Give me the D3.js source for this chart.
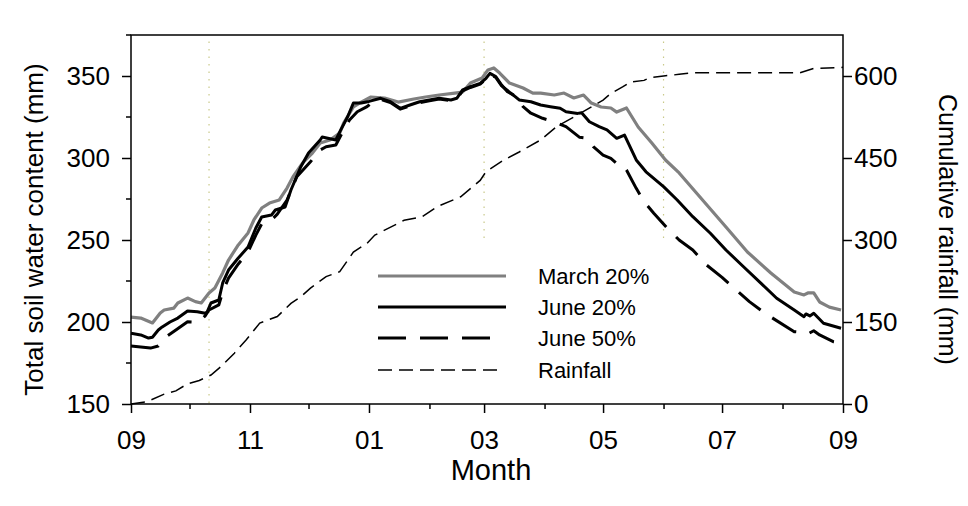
<!DOCTYPE html>
<html><head><meta charset="utf-8">
<script src="https://cdn.jsdelivr.net/npm/d3@7"></script>
<style>
body{margin:0;background:#fff;}
svg{display:block;font-family:Arial,"Liberation Sans",sans-serif;}
</style>
</head><body>
<svg id="chart" width="968" height="506"></svg>
<script>
// ---------- DATA ----------
const startDate = new Date(2009, 8, 1);
const endDate = new Date(2010, 8, 1);

const march20Days = [0,5,11,15,17,22,24,29,33,36,40,43,47,50,55,60,63,67,71,76,80,83,88,93,97,102,107,109,114,118,123,130,137,145,151,158,166,170,174,180,183,186,189,194,201,206,210,217,222,227,232,236,241,246,249,254,260,267,274,281,293,305,316,328,340,345,347,350,353,358,364];
const march20Values = [203.0,202.4,199.4,205.5,207.3,208.5,211.6,214.6,212.4,211.6,217.7,220.7,229.9,237.8,247.0,254.3,262.2,269.5,272.5,274.4,281.7,288.4,297.0,303.0,309.1,311.0,315.2,321.3,331.1,334.1,337.2,336.6,334.1,336.0,337.2,338.4,339.6,340.2,345.7,348.8,353.7,354.9,351.8,345.7,342.7,339.6,339.6,338.4,339.6,336.6,338.4,333.5,331.1,330.5,328.0,330.5,318.9,309.1,298.8,290.9,274.4,257.9,242.7,229.9,218.3,216.5,217.7,217.7,212.2,209.1,207.3];

const june20Days = [0,5,9,11,14,16,20,24,29,34,38,39,41,45,47,50,55,60,64,67,72,74,79,82,87,91,97,98,105,107,111,114,118,122,128,133,138,143,148,153,158,164,167,170,174,179,182,184,187,190,193,196,199,205,210,215,220,223,229,231,235,240,244,249,253,259,264,273,280,288,297,305,314,323,331,340,345,346,348,350,355,364];
const june20Values = [193.1,192.1,190.2,190.7,195.1,197.0,200.0,202.4,206.7,206.3,205.3,206.1,211.6,213.4,223.8,231.7,239.0,245.7,257.3,264.0,265.2,268.3,270.1,280.5,294.5,303.0,311.0,312.8,311.0,315.9,325.0,333.5,333.5,334.5,336.4,334.3,330.3,332.3,334.3,335.4,336.4,335.4,336.4,341.5,343.5,345.5,348.6,351.6,349.6,344.5,340.4,338.4,335.4,334.3,332.3,331.3,330.3,328.2,327.2,327.6,322.1,319.1,317.1,312.0,314.0,298.8,291.6,282.5,274.4,264.2,254.1,243.9,233.7,223.6,214.5,207.3,203.2,204.9,203.7,205.3,199.2,196.2];

const june50Days = [0,5,10,14,18,23,29,32,35,38,40,45,47,50,55,60,64,67,72,75,80,85,92,97,100,105,109,112,116,121,124,128,133,138,143,148,153,158,164,167,170,174,179,182,184,187,190,194,198,201,205,211,217,223,230,234,237,242,246,250,252,254,259,263,268,275,281,288,295,303,317,325,340,346,347,350,353,360,364];
const june50Values = [185.4,184.8,184.1,185.4,191.0,195.1,200.2,200.0,200.2,203.7,207.3,210.4,218.3,226.8,235.4,242.7,253.0,259.8,262.2,265.8,274.4,288.6,297.7,304.9,306.9,307.9,317.1,323.2,328.2,331.3,334.3,335.8,333.8,329.8,331.8,333.8,334.9,335.9,334.9,335.9,341.0,343.0,345.0,348.1,351.1,349.1,344.0,340.2,336.6,331.3,327.3,324.2,322.1,319.1,312.6,312.0,306.9,301.8,299.8,295.7,295.7,292.7,281.5,273.4,266.3,257.1,250.0,243.9,234.8,227.2,212.4,205.3,194.1,193.5,192.7,194.7,192.1,188.0,187.2];

const rainDays = [0,8,17,23,29,35,41,46,53,59,66,75,82,87,92,100,107,114,121,125,130,140,149,157,169,179,182,191,199,210,218,230,242,246,252,256,263,266,273,281,288,343,350,362,365];
const rainValues = [0,4,18,24,37,43,53,68,93,117,148,160,184,196,212,233,242,278,294,309,318,336,342,361,379,409,425,446,461,483,507,531,556,568,580,589,592,597,600,603,606,606,614,615,616];

const markerDays = [40, 181, 273];
const markerBottoms = [150, 249, 249];

const leftTicks = [150, 200, 250, 300, 350];
const leftMinorTicks = [175, 225, 275, 325, 375];
const rightTicks = [0, 150, 300, 450, 600];

const seriesNames = ["March 20%", "June 20%", "June 50%", "Rainfall"];

// ---------- CHART ----------
const svg = d3.select("#chart");
const L = 131, R = 843, T = 35, B = 404;
const FONT = "Arial, 'Liberation Sans', sans-serif";
const dateOf = d => d3.timeDay.offset(startDate, d);

const x = d3.scaleTime().domain([startDate, endDate]).range([L, R]);
const yL = d3.scaleLinear().domain([150, 375]).range([B, T]);
const yR = d3.scaleLinear().domain([0, 675]).range([B, T]);

// vertical marker lines
markerDays.forEach((d, i) => {
  svg.append("line")
    .attr("x1", x(dateOf(d))).attr("x2", x(dateOf(d)))
    .attr("y1", yL(371)).attr("y2", yL(markerBottoms[i]))
    .attr("stroke", "#c9c98a").attr("stroke-width", 1.2)
    .attr("stroke-dasharray", "1.5,6");
});

const lineL = (days, vals) => d3.line().x((d, i) => x(dateOf(days[i]))).y((d, i) => yL(vals[i]))(vals);
const lineR = (days, vals) => d3.line().x((d, i) => x(dateOf(days[i]))).y((d, i) => yR(vals[i]))(vals);

svg.append("path").attr("d", lineR(rainDays, rainValues))
  .attr("fill", "none").attr("stroke", "#000").attr("stroke-width", 1.5)
  .attr("stroke-dasharray", "14,7");
svg.append("path").attr("d", lineL(march20Days, march20Values))
  .attr("fill", "none").attr("stroke", "#808080").attr("stroke-width", 3.2).attr("stroke-linejoin", "round");
svg.append("path").attr("d", lineL(june20Days, june20Values))
  .attr("fill", "none").attr("stroke", "#000").attr("stroke-width", 3).attr("stroke-linejoin", "round");
svg.append("path").attr("d", lineL(june50Days, june50Values))
  .attr("fill", "none").attr("stroke", "#000").attr("stroke-width", 3).attr("stroke-linejoin", "round")
  .attr("stroke-dasharray", "28,14");

// frame
svg.append("rect").attr("x", L).attr("y", T).attr("width", R - L).attr("height", B - T)
  .attr("fill", "none").attr("stroke", "#000").attr("stroke-width", 1.5);

// bottom axis
const months = d3.timeMonth.range(startDate, d3.timeDay.offset(endDate, 1));
const gx = svg.append("g").attr("transform", `translate(0,${B})`)
  .call(d3.axisBottom(x).tickValues(months).tickSize(5).tickPadding(22)
    .tickFormat(d => d.getMonth() % 2 === 0 ? d3.timeFormat("%m")(d) : ""));
gx.select(".domain").remove();
gx.selectAll(".tick line").attr("stroke-width", 1.5)
  .attr("y2", d => d.getMonth() % 2 === 0 ? 9 : 5);
gx.selectAll("text").attr("font-size", 26).attr("font-family", FONT).attr("fill", "#000");

// left axis
const gl = svg.append("g").attr("transform", `translate(${L},0)`)
  .call(d3.axisLeft(yL).tickValues(leftTicks).tickSize(9).tickPadding(12));
gl.select(".domain").remove();
gl.selectAll(".tick line").attr("stroke-width", 1.5);
gl.selectAll("text").attr("font-size", 26).attr("font-family", FONT).attr("fill", "#000");
gl.selectAll(".minor").data(leftMinorTicks).enter().append("line")
  .attr("x1", 0).attr("x2", -5).attr("y1", d => yL(d)).attr("y2", d => yL(d))
  .attr("stroke", "#000").attr("stroke-width", 1.5);

// right axis
const gr = svg.append("g").attr("transform", `translate(${R},0)`)
  .call(d3.axisRight(yR).tickValues(rightTicks).tickSize(9).tickPadding(2));
gr.select(".domain").remove();
gr.selectAll(".tick line").attr("stroke-width", 1.5);
gr.selectAll("text").attr("font-size", 26).attr("font-family", FONT).attr("fill", "#000");

// axis titles
svg.append("text").attr("transform", `translate(43,${(T + B) / 2 + 10}) rotate(-90)`)
  .attr("text-anchor", "middle").attr("font-size", 26).text("Total soil water content (mm)");
svg.append("text").attr("transform", `translate(939,${(T + B) / 2 + 10}) rotate(90)`)
  .attr("text-anchor", "middle").attr("font-size", 25).text("Cumulative rainfall (mm)");
svg.append("text").attr("x", (L + R) / 2 + 4).attr("y", 480)
  .attr("text-anchor", "middle").attr("font-size", 29).text("Month");

// legend
const legStyles = [
  {stroke: "#808080", w: 3.2, dash: null},
  {stroke: "#000", w: 3, dash: null},
  {stroke: "#000", w: 3, dash: "28,14"},
  {stroke: "#000", w: 1.5, dash: "14,7"}
];
const legY = [276, 307, 338, 370];
seriesNames.forEach((n, i) => {
  const s = legStyles[i];
  svg.append("line").attr("x1", 378).attr("x2", i === 2 ? 492 : (i === 3 ? 500 : 506))
    .attr("y1", legY[i]).attr("y2", legY[i])
    .attr("stroke", s.stroke).attr("stroke-width", s.w)
    .attr("stroke-dasharray", s.dash);
  svg.append("text").attr("x", 538).attr("y", legY[i] + 8)
    .attr("font-size", 22).text(n);
});
</script>
</body></html>
